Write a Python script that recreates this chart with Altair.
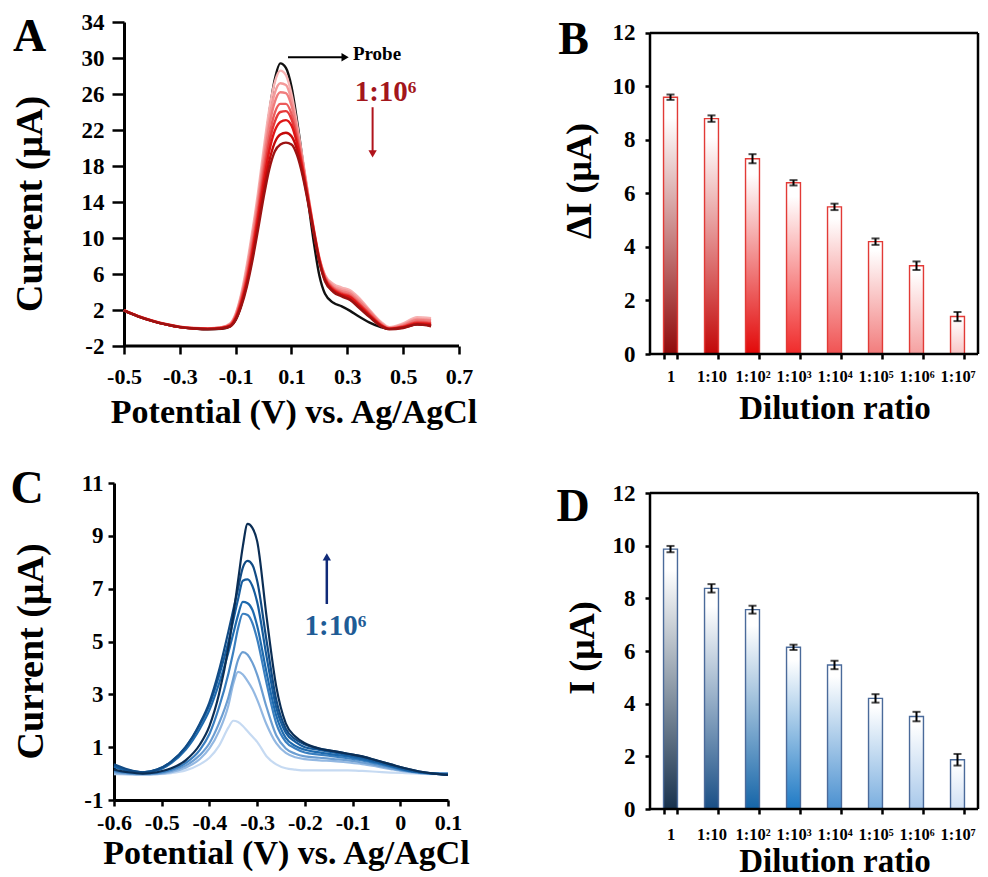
import altair as alt
import pandas as pd

FONT = "Liberation Serif"

# ---------------- Panel A : probe + 8 dilution curves ----------------
XA = [-0.5, -0.45, -0.4, -0.35, -0.3, -0.25, -0.2, -0.15, -0.12, -0.1, -0.08, -0.06, -0.04, -0.02,
      0.0, 0.02, 0.04, 0.06, 0.08, 0.1, 0.12, 0.14, 0.16, 0.18, 0.2, 0.22, 0.25, 0.28, 0.31, 0.34,
      0.38, 0.42, 0.45, 0.5, 0.55, 0.6]
A_PROBE = [1.9, 1.3, 0.8, 0.4, 0.1, -0.05, -0.15, -0.1, 0.2, 0.9, 2.6, 5.3, 9.0, 13.5, 18.8, 23.8, 27.6, 29.4,
           28.9, 26.8, 23.0, 18.6, 14.0, 9.5, 5.8, 3.8, 2.8, 2.4, 1.9, 1.3, 0.6, 0.1, -0.1, 0.1, 0.4, 0.3]
A_R1 = [2.0, 1.35, 0.85, 0.45, 0.15, 0.0, -0.05, 0.1, 0.5, 1.6, 3.8, 7.0, 10.8, 15.0, 19.8, 24.2, 27.3, 28.6,
        28.1, 26.0, 22.6, 18.8, 14.8, 11.0, 7.8, 5.9, 4.9, 4.5, 4.2, 3.4, 2.0, 0.7, 0.1, 0.5, 1.2, 1.1]
A_R2 = [2.0, 1.35, 0.85, 0.45, 0.15, 0.0, -0.05, 0.08, 0.45, 1.5, 3.6, 6.6, 10.3, 14.4, 19.0, 23.2, 26.1, 27.2,
        27.0, 25.3, 22.2, 18.6, 14.7, 11.0, 7.8, 5.8, 4.7, 4.3, 4.0, 3.2, 1.9, 0.6, 0.0, 0.4, 1.0, 0.9]
A_R3 = [1.98, 1.33, 0.83, 0.43, 0.13, -0.02, -0.07, 0.06, 0.4, 1.4, 3.4, 6.2, 9.8, 13.9, 18.4, 22.4, 25.1, 26.2,
        26.1, 24.7, 21.9, 18.4, 14.6, 10.9, 7.7, 5.7, 4.5, 4.1, 3.8, 3.0, 1.8, 0.5, 0.0, 0.3, 0.9, 0.8]
A_R4 = [1.97, 1.32, 0.82, 0.42, 0.12, -0.03, -0.08, 0.04, 0.35, 1.3, 3.2, 5.8, 9.2, 13.2, 17.5, 21.3, 23.9, 24.9,
        24.9, 23.8, 21.3, 18.0, 14.4, 10.8, 7.6, 5.6, 4.4, 3.9, 3.6, 2.8, 1.6, 0.4, -0.05, 0.2, 0.7, 0.6]
A_R5 = [1.96, 1.31, 0.81, 0.41, 0.11, -0.04, -0.09, 0.02, 0.3, 1.2, 3.0, 5.5, 8.8, 12.7, 16.8, 20.5, 22.9, 24.0,
        24.1, 23.2, 20.9, 17.8, 14.3, 10.8, 7.6, 5.5, 4.3, 3.8, 3.5, 2.7, 1.5, 0.35, -0.1, 0.15, 0.6, 0.5]
A_R6 = [1.95, 1.3, 0.8, 0.4, 0.1, -0.05, -0.1, 0.0, 0.25, 1.1, 2.8, 5.2, 8.4, 12.2, 16.1, 19.6, 21.9, 22.9,
        23.1, 22.5, 20.5, 17.6, 14.2, 10.7, 7.5, 5.4, 4.2, 3.7, 3.4, 2.6, 1.4, 0.3, -0.1, 0.1, 0.5, 0.4]
A_R7 = [1.95, 1.3, 0.8, 0.4, 0.1, -0.05, -0.12, -0.02, 0.2, 1.0, 2.6, 4.9, 7.9, 11.5, 15.2, 18.5, 20.6, 21.5,
        21.7, 21.3, 19.8, 17.2, 14.0, 10.6, 7.4, 5.3, 4.1, 3.6, 3.2, 2.4, 1.3, 0.25, -0.1, 0.05, 0.4, 0.3]
A_R8 = [1.95, 1.3, 0.8, 0.4, 0.1, -0.05, -0.12, -0.05, 0.15, 0.9, 2.4, 4.6, 7.5, 10.9, 14.5, 17.6, 19.6, 20.4,
        20.6, 20.4, 19.2, 16.9, 13.8, 10.5, 7.3, 5.2, 4.0, 3.5, 3.1, 2.3, 1.2, 0.2, -0.15, 0.0, 0.4, 0.2]
A_SERIES = [A_PROBE, A_R1, A_R2, A_R3, A_R4, A_R5, A_R6, A_R7, A_R8]
A_NAMES = ["s0", "s1", "s2", "s3", "s4", "s5", "s6", "s7", "s8"]
A_COLORS = ["#111111", "#F7B3B3", "#F49A9A", "#F07D7D", "#EC5C5C", "#E63A3A", "#DE1616", "#C40A0A", "#9C1212"]

# ---------------- Panel C : 8 dilution curves ----------------
XC = [-0.6, -0.57, -0.54, -0.51, -0.48, -0.45, -0.42, -0.4, -0.38, -0.36, -0.35, -0.34, -0.33, -0.32, -0.31,
      -0.3, -0.28, -0.26, -0.24, -0.22, -0.2, -0.17, -0.14, -0.11, -0.08, -0.05, -0.02, 0.01, 0.04, 0.07, 0.1]
C_B1 = [0.15, 0.05, 0.0, 0.05, 0.2, 0.5, 1.1, 1.8, 3.0, 4.8, 6.0, 7.3, 8.6, 9.45, 9.3, 8.8, 5.9, 3.3, 1.9, 1.4,
        1.15, 0.95, 0.85, 0.75, 0.65, 0.5, 0.35, 0.2, 0.08, 0.0, -0.05]
C_B2 = [0.35, 0.15, 0.05, 0.15, 0.45, 1.0, 1.9, 2.7, 3.9, 5.4, 6.2, 7.0, 7.8, 8.05, 7.9, 7.3, 5.0, 2.8, 1.7, 1.3,
        1.1, 0.95, 0.85, 0.75, 0.65, 0.5, 0.35, 0.2, 0.08, 0.0, -0.05]
C_B3 = [0.3, 0.12, 0.05, 0.15, 0.45, 1.0, 1.85, 2.6, 3.7, 5.0, 5.8, 6.6, 7.3, 7.35, 7.1, 6.5, 4.4, 2.5, 1.55, 1.2,
        1.0, 0.9, 0.8, 0.7, 0.6, 0.45, 0.3, 0.15, 0.05, 0.0, -0.05]
C_B4 = [0.25, 0.1, 0.05, 0.12, 0.4, 0.9, 1.7, 2.4, 3.4, 4.6, 5.3, 6.0, 6.5, 6.45, 6.2, 5.6, 3.8, 2.2, 1.35, 1.05,
        0.9, 0.8, 0.72, 0.65, 0.55, 0.42, 0.28, 0.14, 0.05, 0.0, -0.03]
C_B5 = [0.1, 0.03, 0.0, 0.03, 0.15, 0.4, 0.9, 1.5, 2.5, 3.8, 4.6, 5.5, 6.05, 6.0, 5.7, 5.1, 3.4, 1.9, 1.2, 0.95,
        0.8, 0.72, 0.65, 0.58, 0.5, 0.38, 0.25, 0.12, 0.04, 0.0, 0.0]
C_B6 = [0.05, 0.0, -0.02, 0.0, 0.1, 0.3, 0.7, 1.15, 1.9, 2.9, 3.6, 4.3, 4.6, 4.5, 4.2, 3.75, 2.5, 1.45, 0.95, 0.75,
        0.65, 0.6, 0.55, 0.5, 0.42, 0.32, 0.2, 0.1, 0.03, 0.0, 0.0]
C_B7 = [0.0, -0.02, -0.03, -0.02, 0.05, 0.22, 0.55, 0.95, 1.6, 2.6, 3.4, 3.85, 3.75, 3.5, 3.2, 2.8, 1.85, 1.15, 0.78,
        0.62, 0.55, 0.5, 0.47, 0.42, 0.36, 0.27, 0.17, 0.08, 0.02, 0.0, 0.0]
C_B8 = [-0.02, -0.03, -0.03, -0.02, 0.02, 0.12, 0.35, 0.6, 1.05, 1.75, 2.0, 1.95, 1.8, 1.6, 1.4, 1.2, 0.65, 0.35, 0.2,
        0.15, 0.12, 0.12, 0.12, 0.12, 0.1, 0.07, 0.04, 0.02, 0.0, -0.02, -0.02]
C_SERIES = [C_B8, C_B7, C_B6, C_B5, C_B4, C_B3, C_B2, C_B1]
C_NAMES = ["c0", "c1", "c2", "c3", "c4", "c5", "c6", "c7"]
C_COLORS = ["#C6DAF2", "#93B8E2", "#6C9ED2", "#3A7FC0", "#1E6AAE", "#165C9E", "#114B85", "#0B2E55"]

# ---------------- Panels B and D : bars ----------------
DIL = ["1", "1:10", "1:10²", "1:10³", "1:10⁴", "1:10⁵", "1:10⁶", "1:10⁷"]
B_VAL = [9.6, 8.8, 7.3, 6.4, 5.5, 4.2, 3.3, 1.4]
B_ERR = [0.1, 0.12, 0.17, 0.1, 0.12, 0.12, 0.16, 0.17]
B_COLORS = ["#900A0A", "#C20808", "#E20808", "#F02A2A", "#F05252", "#F27C7C", "#F5A0A0", "#F8C6C6"]
D_VAL = [9.87, 8.38, 7.57, 6.14, 5.47, 4.2, 3.51, 1.87]
D_ERR = [0.12, 0.16, 0.15, 0.1, 0.16, 0.16, 0.18, 0.22]
D_COLORS = ["#18324E", "#1A4F86", "#1565A8", "#1F7AC5", "#4A90D0", "#7AAEDF", "#A8C8EA", "#D0E0F4"]

for s in A_SERIES:
    assert len(s) == len(XA)
for s in C_SERIES:
    assert len(s) == len(XC)


def long_df(xs, series, names):
    rows = []
    for name, ys in zip(names, series):
        for x, y in zip(xs, ys):
            rows.append({"x": x, "y": y, "s": name})
    return pd.DataFrame(rows)


NEG1 = "(datum.value < 0 ? '-' : '') + format(abs(datum.value), '.1f')"
NEG1T = "(datum.value < 0 ? '-' : '') + format(abs(datum.value), '.1~f')"
NEGI = "(datum.value < 0 ? '-' : '') + format(abs(datum.value), 'd')"


def letter(t, x, y):
    return alt.Chart(pd.DataFrame({"t": [t]})).mark_text(
        font=FONT, fontWeight="bold", fontSize=46, align="center", baseline="middle", color="black"
    ).encode(text="t:N", x=alt.value(x), y=alt.value(y))


# ======================= A =======================
WA, HA = 345, 324
xA = alt.X("x:Q", scale=alt.Scale(domain=[-0.53582, 0.7], nice=False, zero=False),
           axis=alt.Axis(values=[-0.5, -0.3, -0.1, 0.1, 0.3, 0.5, 0.7], labelExpr=NEG1,
                         title="Potential (V) vs. Ag/AgCl", domain=False, tickSize=8, tickWidth=2.5,
                         labelFontSize=22, labelPadding=12, labelFlush=False, labelOverlap=False,
                         titleFontSize=34, titleX=179.5, titleY=76, titleBaseline="alphabetic"))
yA = alt.Y("y:Q", scale=alt.Scale(domain=[-2, 34], nice=False, zero=False),
           axis=alt.Axis(values=[-2, 2, 6, 10, 14, 18, 22, 26, 30, 34], labelExpr=NEGI, offset=-10,
                         domainWidth=3, tickSize=12, tickWidth=2.5, labelFontSize=23, labelPadding=8,
                         labelFlush=False, labelOverlap=False,
                         title="Current (μA)", titleFontSize=38, titleX=-93.5, titleY=181.5,
                         titleBaseline="middle"))

linesA = alt.Chart(long_df(XA, A_SERIES, A_NAMES)).mark_line(strokeWidth=2.4, interpolate="monotone").encode(
    x=xA, y=yA, color=alt.Color("s:N", scale=alt.Scale(domain=A_NAMES, range=A_COLORS), legend=None))
axisLineA = alt.Chart(pd.DataFrame({"x": [-0.5], "x2": [0.7], "y": [-2]})).mark_rule(
    strokeWidth=3, color="black").encode(x=xA, x2="x2:Q", y=yA)
probeArrow = alt.Chart(pd.DataFrame({"x": [0.0875], "x2": [0.29], "y": [30.08]})).mark_rule(
    strokeWidth=2, color="black").encode(x=xA, x2="x2:Q", y=yA)
probeHead = alt.Chart(pd.DataFrame({"x": [0.292], "y": [30.08]})).mark_point(
    shape="triangle-right", filled=True, size=70, color="black", opacity=1).encode(x=xA, y=yA)
probeText = alt.Chart(pd.DataFrame({"x": [0.32], "y": [30.5], "t": ["Probe"]})).mark_text(
    font=FONT, fontWeight="bold", fontSize=19, align="left", baseline="middle", color="black").encode(
    x=xA, y=yA, text="t:N")
redText = alt.Chart(pd.DataFrame({"x": [0.437], "y": [26.23], "t": ["1:10⁶"]})).mark_text(
    font=FONT, fontWeight="bold", fontSize=29, align="center", baseline="middle", color="#A3161C").encode(
    x=xA, y=yA, text="t:N")
redArrow = alt.Chart(pd.DataFrame({"x": [0.3905], "y": [24.53], "y2": [19.5]})).mark_rule(
    strokeWidth=2, color="#B0141C").encode(x=xA, y=yA, y2="y2:Q")
redHead = alt.Chart(pd.DataFrame({"x": [0.3905], "y": [19.35]})).mark_point(
    shape="triangle-down", filled=True, size=70, color="#B0141C", opacity=1).encode(x=xA, y=yA)

chA = alt.layer(linesA, axisLineA, probeArrow, probeHead, probeText, redText, redArrow, redHead,
                letter("A", -84.5, 15)).properties(width=WA, height=HA)

# ======================= C =======================
WC, HC = 334, 317
xC = alt.X("x:Q", scale=alt.Scale(domain=[-0.6, 0.1], nice=False, zero=False),
           axis=alt.Axis(values=[-0.6, -0.5, -0.4, -0.3, -0.2, -0.1, 0.0, 0.1], labelExpr=NEG1T,
                         title="Potential (V) vs. Ag/AgCl", domainWidth=3, tickSize=6, tickWidth=2.5,
                         labelFontSize=22, labelPadding=6, labelFlush=False, labelOverlap=False,
                         titleFontSize=34, titleX=172, titleY=63, titleBaseline="alphabetic"))
yC = alt.Y("y:Q", scale=alt.Scale(domain=[-1, 11], nice=False, zero=False),
           axis=alt.Axis(values=[-1, 1, 3, 5, 7, 9, 11], labelExpr=NEGI, domainWidth=3, tickSize=6,
                         tickWidth=2.5, labelFontSize=23, labelPadding=5, labelFlush=False, labelOverlap=False,
                         title="Current (μA)", titleFontSize=38, titleX=-83, titleY=168,
                         titleBaseline="middle"))
linesC = alt.Chart(long_df(XC, C_SERIES, C_NAMES)).mark_line(strokeWidth=2.2, interpolate="monotone").encode(
    x=xC, y=yC, color=alt.Color("s:N", scale=alt.Scale(domain=C_NAMES, range=C_COLORS), legend=None))
blueArrow = alt.Chart(pd.DataFrame({"x": [-0.154], "y": [6.42], "y2": [8.15]})).mark_rule(
    strokeWidth=2.5, color="#102A78").encode(x=xC, y=yC, y2="y2:Q")
blueHead = alt.Chart(pd.DataFrame({"x": [-0.154], "y": [8.2]})).mark_point(
    shape="triangle-up", filled=True, size=70, color="#102A78", opacity=1).encode(x=xC, y=yC)
blueText = alt.Chart(pd.DataFrame({"x": [-0.136], "y": [5.59], "t": ["1:10⁶"]})).mark_text(
    font=FONT, fontWeight="bold", fontSize=29, align="center", baseline="middle", color="#1F5C96").encode(
    x=xC, y=yC, text="t:N")
chC = alt.layer(linesC, blueArrow, blueHead, blueText, letter("C", -87, 5.5)).properties(width=WC, height=HC)


# ======================= B / D =======================
def grad(c):
    return alt.LinearGradient(gradient="linear",
                              stops=[alt.GradientStop(color=c, offset=0),
                                     alt.GradientStop(color="#FFFFFF", offset=0.92)],
                              x1=0, x2=0, y1=1, y2=0)


def bar_panel(vals, errs, colors, stroke, ytitle, ymax, W, H, ytx, yty, xty, lab_pad, lab, lx, ly):
    df = pd.DataFrame({"cat": DIL, "v": vals, "e": errs, "i": list(range(len(DIL)))})
    xs = alt.Scale(domain=DIL, paddingInner=0.66, paddingOuter=0.33)
    ys = alt.Scale(domain=[0, ymax], nice=False, zero=True)
    xax = alt.Axis(title="Dilution ratio", labelAngle=0, domain=False, tickBand="extent", tickSize=5,
                   tickWidth=2.5, labelFontSize=16.5, labelPadding=lab_pad, labelOverlap=False,
                   titleFontSize=33, titleX=184.5, titleY=xty, titleBaseline="alphabetic")
    yax = alt.Axis(values=[0, 2, 4, 6, 8, 10, 12], domain=False, tickSize=5, tickWidth=2.5,
                   labelFontSize=23, labelPadding=10, labelFlush=False, labelOverlap=False,
                   title=ytitle, titleFontSize=36, titleX=ytx, titleY=yty, titleBaseline="middle")
    xenc = alt.X("cat:N", scale=xs, axis=xax, sort=DIL)
    layers = []
    for i, c in enumerate(colors):
        layers.append(alt.Chart(df).transform_filter(alt.datum.i == i).mark_bar(
            fill=grad(c), stroke=stroke, strokeWidth=1.4).encode(
            x=xenc, y=alt.Y("v:Q", scale=ys, axis=yax)))
    err = alt.Chart(df).transform_calculate(lo="datum.v - datum.e", hi="datum.v + datum.e")
    layers.append(err.mark_rule(color="black", strokeWidth=2).encode(
        x=xenc, y=alt.Y("lo:Q", scale=ys, axis=yax), y2="hi:Q"))
    layers.append(err.mark_tick(color="black", size=8, thickness=2).encode(
        x=xenc, y=alt.Y("lo:Q", scale=ys, axis=yax)))
    layers.append(err.mark_tick(color="black", size=8, thickness=2).encode(
        x=xenc, y=alt.Y("hi:Q", scale=ys, axis=yax)))
    bd = alt.Chart(pd.DataFrame({"k": [0]}))
    layers.append(bd.mark_rule(color="black", strokeWidth=2.5).encode(
        x=alt.value(0), x2=alt.value(W), y=alt.Y(datum=12, scale=ys, axis=yax)))
    layers.append(bd.mark_rule(color="black", strokeWidth=2.5).encode(
        x=alt.value(0), x2=alt.value(W), y=alt.Y(datum=0, scale=ys, axis=yax)))
    layers.append(bd.mark_rule(color="black", strokeWidth=2.5).encode(
        x=alt.value(0), y=alt.Y(datum=0, scale=ys, axis=yax), y2=alt.datum(12)))
    layers.append(bd.mark_rule(color="black", strokeWidth=2.5).encode(
        x=alt.value(W), y=alt.Y(datum=0, scale=ys, axis=yax), y2=alt.datum(12)))
    layers.append(letter(lab, lx, ly))
    return alt.layer(*layers).properties(width=W, height=H)


WB = 328
chB = bar_panel(B_VAL, B_ERR, B_COLORS, "#E23A36", "ΔI (μA)", 12.411, WB, 332, -70.5, 158.5, 64, 9, "B", -76.5, 18)
chD = bar_panel(D_VAL, D_ERR, D_COLORS, "#4A6A9A", "I (μA)", 12.38, WB, 326, -67.5, 164.5, 62, 12, "D", -77, 24)

chart = alt.concat(chA, chB, chC, chD, columns=2, spacing={"row": 129, "column": 191}, bounds="flush").resolve_scale(
    color="independent"
).properties(
    padding={"left": 2, "top": 3, "right": 0, "bottom": 0}
).configure_view(strokeWidth=0).configure_axis(
    labelFont=FONT, titleFont=FONT, labelFontWeight="bold", titleFontWeight="bold",
    labelColor="black", titleColor="black", tickColor="black", domainColor="black", grid=False
)

chart.save("out.html", embed_options={"renderer": "svg", "actions": False})
